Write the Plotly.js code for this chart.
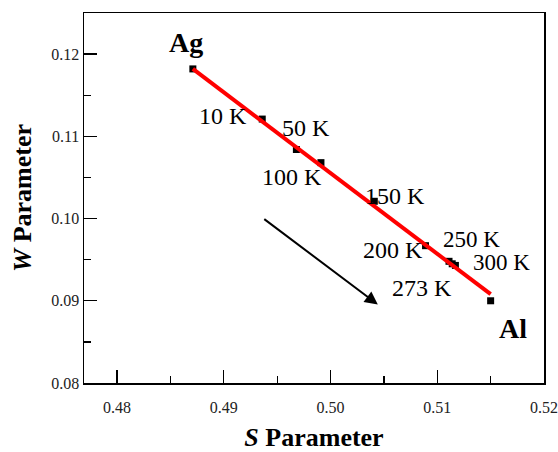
<!DOCTYPE html>
<html>
<head>
<meta charset="utf-8">
<script src="https://cdn.plot.ly/plotly-3.0.1.min.js"></script>
<style>html,body{margin:0;padding:0;background:#fff;}#chart{width:558px;height:452px;}</style>
</head>
<body>
<div id="chart"></div>
<script>
// Data
const labels = ["Ag", "10 K", "50 K", "100 K", "150 K", "200 K", "250 K", "273 K", "300 K", "Al"];
const sParam = [0.4871, 0.4936, 0.4968, 0.4991, 0.5041, 0.5089, 0.5111, 0.5114, 0.5117, 0.5150];
const wParam = [0.1182, 0.1121, 0.1084, 0.1068, 0.1021, 0.0967, 0.0948, 0.0945, 0.0943, 0.0900];
// Linear fit line endpoints
const fitS = [0.4871, 0.5150];
const fitW = [0.1182, 0.0908];
// Arrow (tail -> head)
const arrowS = [0.49365, 0.50443];
const arrowW = [0.10007, 0.08954];
// Tick labels
const xTicks = [0.48, 0.49, 0.50, 0.51, 0.52];
const xTickText = ['0.48', '0.49', '0.50', '0.51', '0.52'];
const yTicks = [0.08, 0.09, 0.10, 0.11, 0.12];
const yTickText = ['0.08', '0.09', '0.10', '0.11', '0.12'];

const FONT = 'Liberation Serif';

// label offsets in pixels (style, not data)
const offsets = {
  "Ag": [-7, 26, 28, true],
  "10 K": [-39, 3, 24, false],
  "50 K": [10, 21, 24, false],
  "100 K": [-29, -14, 24, false],
  "150 K": [21, 5, 24, false],
  "200 K": [-33, -4, 24, false],
  "250 K": [22, 22, 23, false],
  "273 K": [-30, -24, 24, false],
  "300 K": [46, 3, 23, false],
  "Al": [22, -28, 28, true]
};

const annotations = labels.map((t, i) => {
  const o = offsets[t];
  return {
    x: sParam[i], y: wParam[i], xref: 'x', yref: 'y',
    text: o[3] ? '<b>' + t + '</b>' : t,
    showarrow: false, xanchor: 'center', yanchor: 'middle',
    xshift: o[0], yshift: o[1],
    font: {family: FONT, size: o[2], color: '#000'}
  };
});
annotations.push({
  x: arrowS[1], y: arrowW[1], ax: arrowS[0], ay: arrowW[0],
  xref: 'x', yref: 'y', axref: 'x', ayref: 'y',
  showarrow: true, arrowhead: 2, arrowsize: 1.3, arrowwidth: 2, arrowcolor: '#000', text: ''
});

const traces = [
  {x: sParam, y: wParam, type: 'scatter', mode: 'markers',
   marker: {symbol: 'square', size: 7, color: '#000'}, hoverinfo: 'skip'},
  {x: fitS, y: fitW, type: 'scatter', mode: 'lines',
   line: {color: '#ff0000', width: 4}, hoverinfo: 'skip'}
];

const axisCommon = {
  showline: true, linecolor: '#000', linewidth: 1.5, mirror: true,
  ticks: 'inside', ticklen: 13, tickwidth: 1.3, tickcolor: '#000',
  showgrid: false, zeroline: false,
  tickfont: {family: FONT, size: 16, color: '#222'},
  minor: {ticks: 'inside', ticklen: 7, tickwidth: 1.3, tickcolor: '#000', showgrid: false}
};

const layout = {
  width: 558, height: 452,
  margin: {l: 84, r: 14, t: 13, b: 69},
  paper_bgcolor: '#fff', plot_bgcolor: '#fff',
  showlegend: false,
  font: {family: FONT},
  xaxis: Object.assign({}, axisCommon, {
    range: [0.4769, 0.52], tickvals: xTicks, ticktext: xTickText,
    ticklabelstandoff: 9,
    minor: Object.assign({}, axisCommon.minor, {dtick: 0.005, tick0: 0.475}),
    title: {text: '<b><i>S</i> Parameter</b>', font: {family: FONT, size: 26, color: '#000'}, standoff: 19}
  }),
  yaxis: Object.assign({}, axisCommon, {
    range: [0.08, 0.125], tickvals: yTicks, ticktext: yTickText,
    minor: Object.assign({}, axisCommon.minor, {dtick: 0.005, tick0: 0.075}),
    title: {text: '<b><i>W</i> Parameter</b>', font: {family: FONT, size: 26, color: '#000'}, standoff: 12}
  }),
  annotations: annotations
};

Plotly.newPlot('chart', traces, layout, {staticPlot: true, displayModeBar: false});
</script>
</body>
</html>
